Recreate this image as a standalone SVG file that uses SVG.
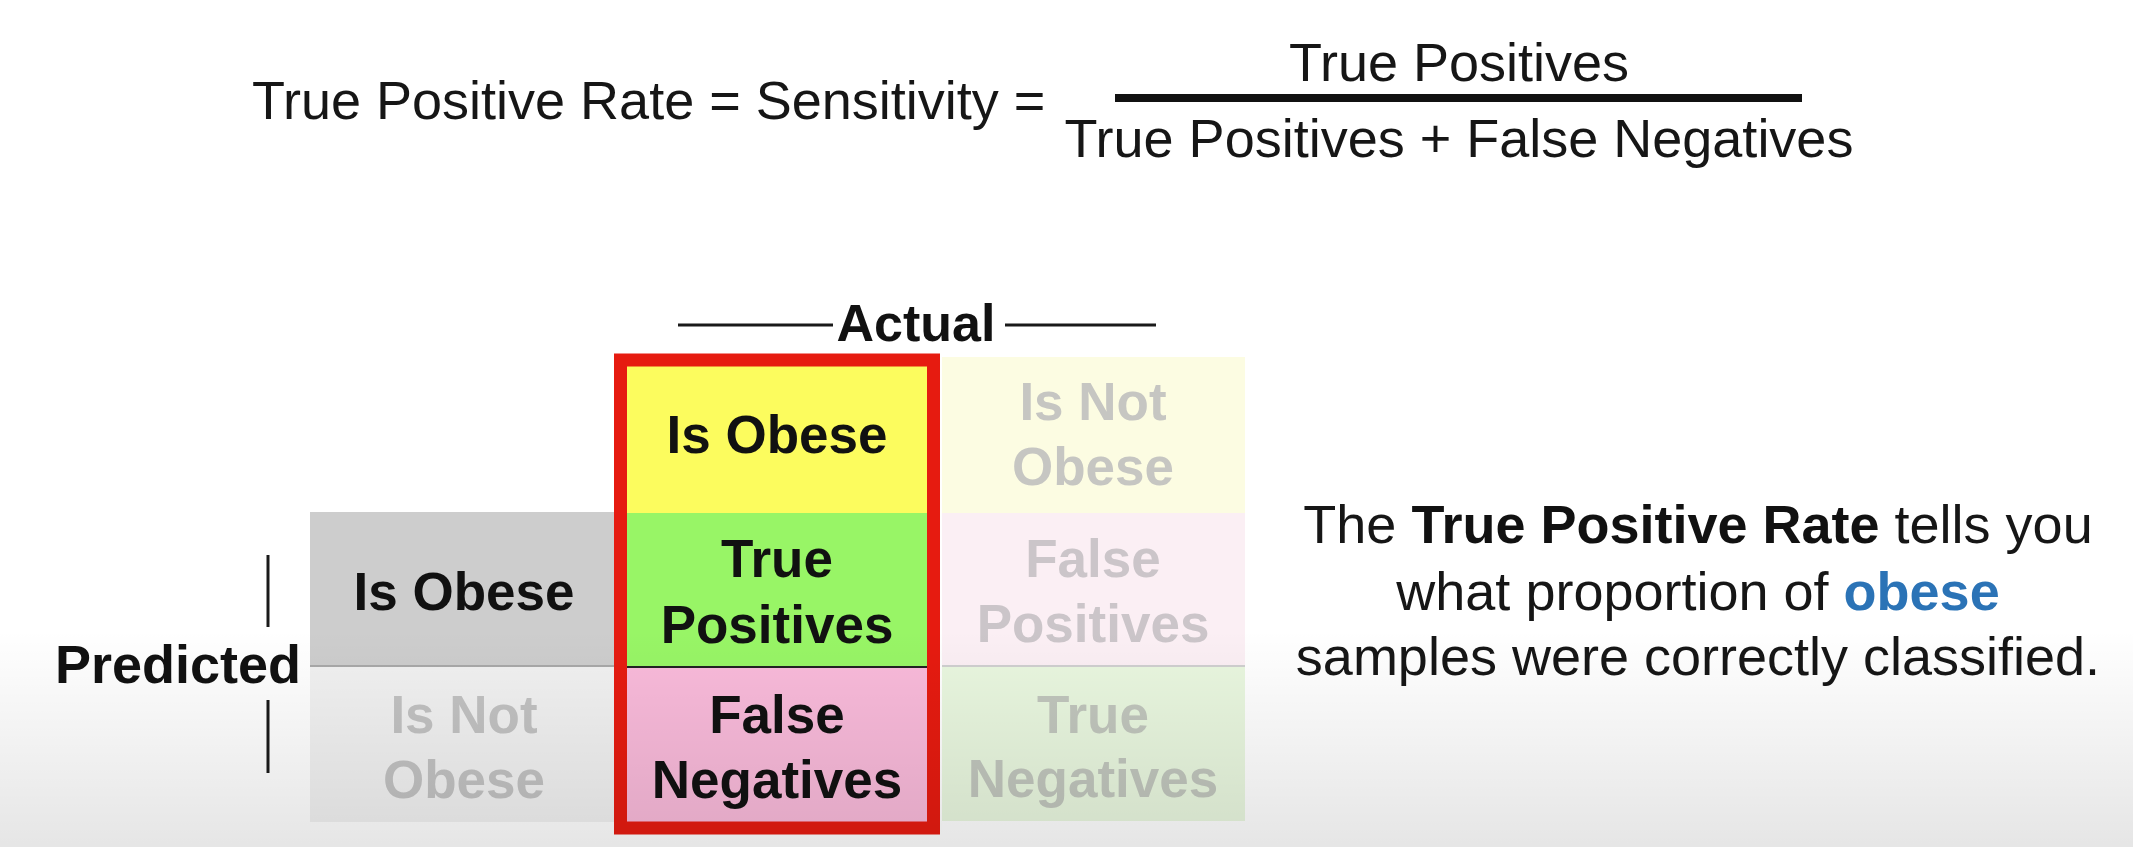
<svg xmlns="http://www.w3.org/2000/svg" width="2133" height="847" viewBox="0 0 2133 847">
<style>
  text { font-family: "Liberation Sans", Arial, Helvetica, sans-serif; }
  .t { font-size: 54px; fill: #161616; }
  .cell { font-size: 53px; font-weight: bold; text-anchor: middle; fill: #111; }
  .faint { fill: #c2c2c2; }
  .lbl { font-weight: bold; fill: #111; }
  .rule { stroke: #1a1a1a; stroke-width: 3; }
</style>
<defs>
  <linearGradient id="shade" x1="0" y1="0" x2="0" y2="1">
    <stop offset="0" stop-color="#000" stop-opacity="0"/>
    <stop offset="1" stop-color="#000" stop-opacity="0.1"/>
  </linearGradient>
</defs>
<rect x="0" y="0" width="2133" height="847" fill="#ffffff"/>

<g id="formula">
  <text class="t" x="252" y="119">True Positive Rate = Sensitivity =</text>
  <text class="t" x="1459" y="81" text-anchor="middle">True Positives</text>
  <rect x="1115" y="94" width="687" height="8" fill="#111"/>
  <text class="t" x="1459" y="157" text-anchor="middle">True Positives + False Negatives</text>
</g>

<g id="lines">
  <line class="rule" x1="678" y1="325" x2="833" y2="325"/>
  <line class="rule" x1="1005" y1="325" x2="1156" y2="325"/>
  <line class="rule" x1="268" y1="555" x2="268" y2="627"/>
  <line class="rule" x1="268" y1="700" x2="268" y2="773"/>
</g>

<g id="actual-label">
  <text class="lbl" x="916" y="341" font-size="52" text-anchor="middle">Actual</text>
</g>
<g id="predicted-label">
  <text class="lbl" x="55" y="683" font-size="54">Predicted</text>
</g>

<g id="pred-is-obese">
  <rect x="310" y="512" width="310" height="154" fill="#cdcdcd"/>
  <line x1="310" y1="666" x2="620" y2="666" stroke="#a9a9a9" stroke-width="2"/>
  <text class="cell" x="464" y="610">Is Obese</text>
</g>
<g id="pred-is-not-obese">
  <rect x="310" y="667" width="310" height="155" fill="#f1f1f1"/>
  <text class="cell faint" x="464" y="733">Is Not</text>
  <text class="cell faint" x="464" y="798">Obese</text>
</g>

<g id="actual-is-obese">
  <rect x="620" y="360" width="314" height="153" fill="#fcfc5e"/>
  <text class="cell" x="777" y="453">Is Obese</text>
</g>
<g id="true-positives">
  <rect x="620" y="513" width="314" height="154" fill="#98f566"/>
  <text class="cell" x="777" y="577">True</text>
  <text class="cell" x="777" y="643">Positives</text>
</g>
<g id="false-negatives">
  <rect x="620" y="667" width="314" height="161" fill="#f9bada"/>
  <line x1="627" y1="667" x2="927" y2="667" stroke="#222" stroke-width="2"/>
  <text class="cell" x="777" y="733">False</text>
  <text class="cell" x="777" y="798">Negatives</text>
</g>
<g id="highlight">
  <rect x="620.5" y="360" width="313" height="468" fill="none" stroke="#e61b10" stroke-width="13"/>
</g>

<g id="actual-is-not-obese">
  <rect x="942" y="357" width="303" height="156" fill="#fcfce2"/>
  <text class="cell" x="1093" y="420" fill="#c6c6c2" style="fill:#c6c6c2">Is Not</text>
  <text class="cell" x="1093" y="485" style="fill:#c6c6c2">Obese</text>
</g>
<g id="false-positives">
  <rect x="942" y="513" width="303" height="153" fill="#fbeff4"/>
  <line x1="942" y1="666" x2="1245" y2="666" stroke="#cfcfcf" stroke-width="2"/>
  <text class="cell" x="1093" y="577" style="fill:#cbc5c9">False</text>
  <text class="cell" x="1093" y="642" style="fill:#cbc5c9">Positives</text>
</g>
<g id="true-negatives">
  <rect x="942" y="667" width="303" height="154" fill="#e9f7df"/>
  <text class="cell" x="1093" y="733" style="fill:#c1c6bd">True</text>
  <text class="cell" x="1093" y="797" style="fill:#c1c6bd">Negatives</text>
</g>

<g id="explanation">
  <text class="t" font-size="53" text-anchor="middle" x="1698" y="543">The <tspan font-weight="bold" fill="#111">True Positive Rate</tspan> tells you</text>
  <text class="t" font-size="53" text-anchor="middle" x="1698" y="610">what proportion of <tspan font-weight="bold" fill="#2b73b6">obese</tspan></text>
  <text class="t" font-size="53" text-anchor="middle" x="1698" y="675">samples were correctly classified.</text>
</g>

<rect x="0" y="630" width="2133" height="217" fill="url(#shade)" pointer-events="none"/>
</svg>
